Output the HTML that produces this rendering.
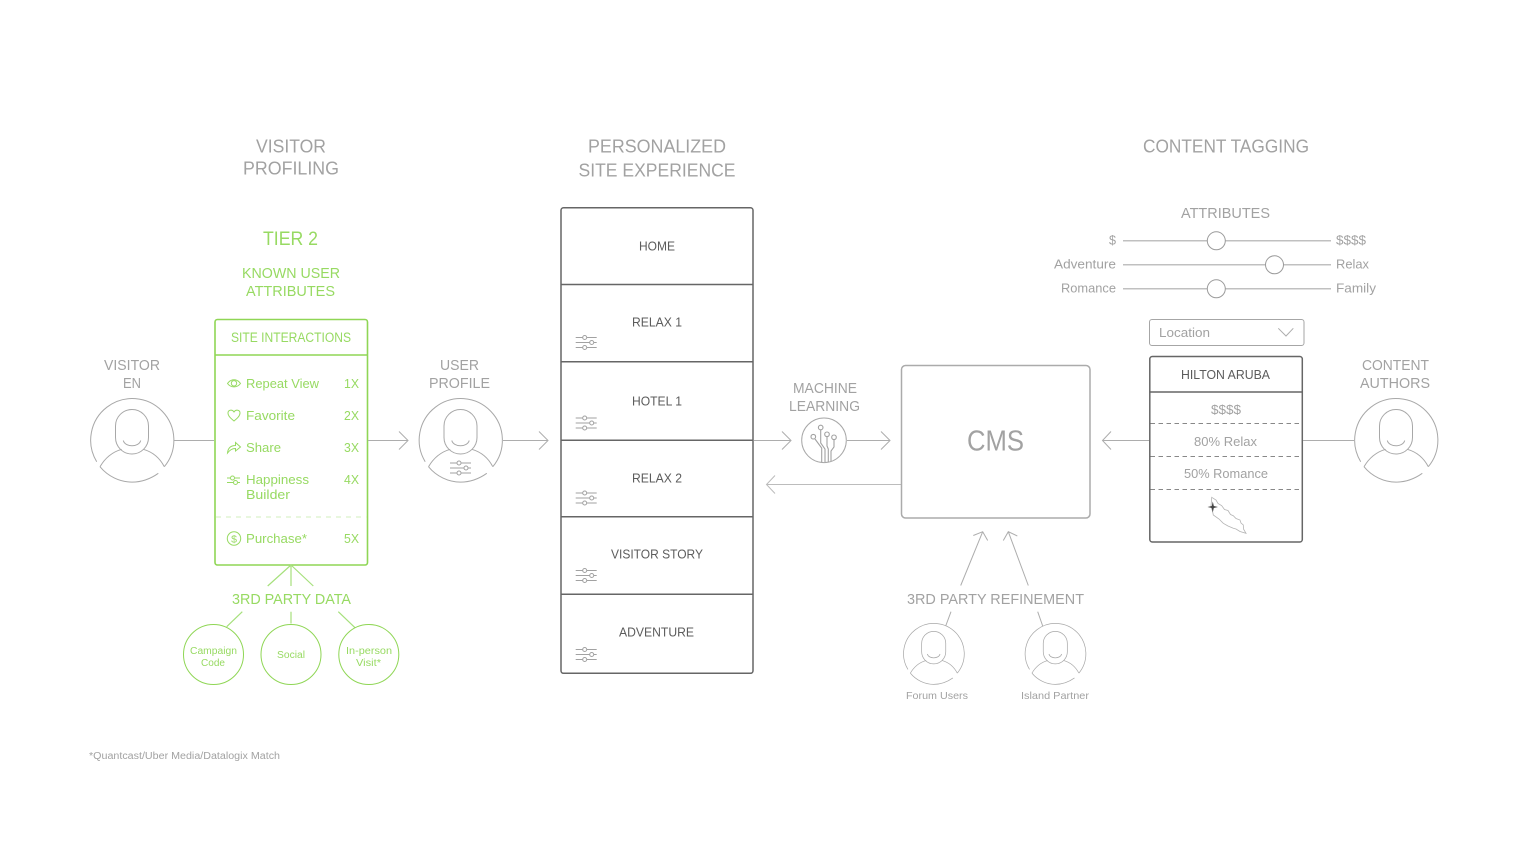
<!DOCTYPE html>
<html>
<head>
<meta charset="utf-8">
<style>
html,body{margin:0;padding:0;background:#fff;}
svg{display:block;}
text{font-family:"Liberation Sans",sans-serif;text-anchor:middle;}
.g{fill:#97da62;}
.t{fill:#a2a2a2;}
.d{fill:#5c5c5c;}
.l{text-anchor:start;}
.ln{fill:none;stroke:#adadad;stroke-width:1;}
.gl{fill:none;stroke:#a6e07c;stroke-width:1.2;}
.gs{fill:none;stroke:#97da62;stroke-width:1;}
</style>
</head>
<body>
<svg width="1528" height="860" viewBox="0 0 1528 860" xmlns="http://www.w3.org/2000/svg">
<defs>
<g id="person" fill="none" stroke="#a8a8a8" stroke-width="1">
<path d="M-35.3 21.2A41.6 41.6 0 1 1 32.3 26.2"/>
<path d="M-32 26.2C-26 16-18 11-10.3 8.8M32.3 26.2C27 16 19 11 11.3 8.8"/>
<path d="M-32 26.2C-24 36-12 41.6 0 41.6C10 41.6 19 38 26.3 32.8"/>
<rect x="-16.5" y="-31" width="33" height="44.5" rx="16.5" ry="16.5"/>
<path d="M-8.7 0C-7 7 7 7 8.7 0"/>
</g>
<g id="sliders" fill="#fff" stroke="#a2a2a2" stroke-width="1">
<path d="M-10.5 -5H10.5M-10.5 0H10.5M-10.5 5H10.5" fill="none"/>
<circle cx="-1.5" cy="-5" r="2"/>
<circle cx="5.5" cy="0" r="2"/>
<circle cx="-1.5" cy="5" r="2"/>
</g>
</defs>

<!-- Headings -->
<text class="t" x="291" y="152.300" font-size="18" textLength="70" lengthAdjust="spacingAndGlyphs">VISITOR</text>
<text class="t" x="291" y="174.300" font-size="18" textLength="96" lengthAdjust="spacingAndGlyphs">PROFILING</text>
<text class="t" x="657" y="152.300" font-size="18" textLength="138" lengthAdjust="spacingAndGlyphs">PERSONALIZED</text>
<text class="t" x="657" y="176.300" font-size="18" textLength="157" lengthAdjust="spacingAndGlyphs">SITE EXPERIENCE</text>
<text class="t" x="1226" y="152.300" font-size="18" textLength="166" lengthAdjust="spacingAndGlyphs">CONTENT TAGGING</text>

<text class="g" x="290.500" y="245" font-size="19" textLength="55" lengthAdjust="spacingAndGlyphs">TIER 2</text>
<text class="g" x="291" y="278" font-size="15" textLength="98" lengthAdjust="spacingAndGlyphs">KNOWN USER</text>
<text class="g" x="290.500" y="296" font-size="15" textLength="89" lengthAdjust="spacingAndGlyphs">ATTRIBUTES</text>

<!-- Visitor -->
<text class="t" x="132" y="370" font-size="15" textLength="56" lengthAdjust="spacingAndGlyphs">VISITOR</text>
<text class="t" x="132" y="388" font-size="15" textLength="18" lengthAdjust="spacingAndGlyphs">EN</text>
<use href="#person" x="132" y="440.500"/>
<path class="ln" d="M174 440.500H214"/>

<!-- Green box -->
<rect x="215" y="319.500" width="152.500" height="245.500" rx="2.500" fill="#fff" stroke="#8fd655" stroke-width="1.600"/>
<path d="M215 355H367.500" stroke="#8fd655" stroke-width="1.400" fill="none"/>
<path d="M216 517H367" stroke="#d2efbc" stroke-width="1" stroke-dasharray="5 5" fill="none"/>
<text class="g" x="291" y="342" font-size="13.500" textLength="120" lengthAdjust="spacingAndGlyphs">SITE INTERACTIONS</text>

<text class="g l" x="246" y="388" font-size="13" textLength="73" lengthAdjust="spacingAndGlyphs">Repeat View</text>
<text class="g l" x="246" y="420" font-size="13" textLength="49" lengthAdjust="spacingAndGlyphs">Favorite</text>
<text class="g l" x="246" y="452" font-size="13" textLength="35" lengthAdjust="spacingAndGlyphs">Share</text>
<text class="g l" x="246" y="484" font-size="13" textLength="63" lengthAdjust="spacingAndGlyphs">Happiness</text>
<text class="g l" x="246" y="499" font-size="13" textLength="44" lengthAdjust="spacingAndGlyphs">Builder</text>
<text class="g l" x="246" y="543" font-size="13" textLength="61" lengthAdjust="spacingAndGlyphs">Purchase*</text>
<text class="g" x="351.500" y="388" font-size="13" textLength="15" lengthAdjust="spacingAndGlyphs">1X</text>
<text class="g" x="351.500" y="420" font-size="13" textLength="15" lengthAdjust="spacingAndGlyphs">2X</text>
<text class="g" x="351.500" y="452" font-size="13" textLength="15" lengthAdjust="spacingAndGlyphs">3X</text>
<text class="g" x="351.500" y="484" font-size="13" textLength="15" lengthAdjust="spacingAndGlyphs">4X</text>
<text class="g" x="351.500" y="543" font-size="13" textLength="15" lengthAdjust="spacingAndGlyphs">5X</text>

<!-- green icons -->
<path class="gs" d="M227.500 383.500C231 378.500 237 378.500 240.500 383.500C237 388 231 388 227.500 383.500Z"/>
<circle class="gs" cx="234" cy="383.300" r="2.700"/>
<path class="gs" d="M234 421C231 418.500 228 416 228 413C228 410 232 409 234 412C236 409 240 410 240 413C240 416 237 418.500 234 421Z"/>
<path class="gs" d="M227.500 453C228 448 231 445.500 235.500 445.500V442.500L240.500 447L235.500 451V448.500C232 448.500 230 450 227.500 453Z"/>
<path class="gs" d="M227 478H230M235 478H240M227 482.500H233M238 482.500H240"/>
<circle class="gs" cx="232.500" cy="478" r="2"/>
<circle class="gs" cx="235.500" cy="482.500" r="2"/>
<circle class="gs" cx="234" cy="538.500" r="6.700"/>
<text class="g" x="234" y="542.300" font-size="10.500">$</text>

<!-- Green connectors -->
<path class="gl" d="M291 565L267.700 586M291 565V586M291 565L313.300 586M242.300 611.700L226.700 626.700M291 611.700V623.500M338.300 611.700L355 627.700"/>
<text class="g" x="291.500" y="604" font-size="15" textLength="119" lengthAdjust="spacingAndGlyphs">3RD PARTY DATA</text>
<circle cx="213.500" cy="654.500" r="30" fill="none" stroke="#8fd655" stroke-width="1"/>
<circle cx="291" cy="654.500" r="30" fill="none" stroke="#8fd655" stroke-width="1"/>
<circle cx="368.800" cy="654.500" r="30" fill="none" stroke="#8fd655" stroke-width="1"/>
<text class="g" x="213.500" y="654" font-size="10" textLength="47" lengthAdjust="spacingAndGlyphs">Campaign</text>
<text class="g" x="213" y="666" font-size="10" textLength="24" lengthAdjust="spacingAndGlyphs">Code</text>
<text class="g" x="291" y="658" font-size="10" textLength="28" lengthAdjust="spacingAndGlyphs">Social</text>
<text class="g" x="369" y="654" font-size="10" textLength="46" lengthAdjust="spacingAndGlyphs">In-person</text>
<text class="g" x="368.500" y="666" font-size="10" textLength="25" lengthAdjust="spacingAndGlyphs">Visit*</text>

<!-- arrow 1 -->
<path class="ln" d="M368 440.500H408M399 431.500L408 440.500L399 449.500"/>

<!-- User profile -->
<text class="t" x="459.500" y="370" font-size="15" textLength="39" lengthAdjust="spacingAndGlyphs">USER</text>
<text class="t" x="459.500" y="388" font-size="15" textLength="61" lengthAdjust="spacingAndGlyphs">PROFILE</text>
<use href="#person" x="460.500" y="440.500"/>
<use href="#sliders" x="460.500" y="468"/>
<path class="ln" d="M503 440.500H548M539 431.500L548 440.500L539 449.500"/>

<!-- Stack -->
<rect x="561" y="207.800" width="192" height="465.500" rx="2.500" fill="#fff" stroke="#666" stroke-width="1.500"/>
<path d="M561 284.500H753M561 361.800H753M561 440.300H753M561 516.800H753M561 594.300H753" stroke="#666" stroke-width="1.500" fill="none"/>
<text class="d" x="657" y="250.500" font-size="13" textLength="36" lengthAdjust="spacingAndGlyphs">HOME</text>
<text class="d" x="657" y="326.500" font-size="13" textLength="50" lengthAdjust="spacingAndGlyphs">RELAX 1</text>
<text class="d" x="657" y="405.500" font-size="13" textLength="50" lengthAdjust="spacingAndGlyphs">HOTEL 1</text>
<text class="d" x="657" y="482.500" font-size="13" textLength="50" lengthAdjust="spacingAndGlyphs">RELAX 2</text>
<text class="d" x="657" y="558.500" font-size="13" textLength="92" lengthAdjust="spacingAndGlyphs">VISITOR STORY</text>
<text class="d" x="656.500" y="636.500" font-size="13" textLength="75" lengthAdjust="spacingAndGlyphs">ADVENTURE</text>
<use href="#sliders" x="586.200" y="342.500"/>
<use href="#sliders" x="586.200" y="423"/>
<use href="#sliders" x="586.200" y="498"/>
<use href="#sliders" x="586.200" y="575.500"/>
<use href="#sliders" x="586.200" y="654.500"/>

<!-- Machine learning -->
<text class="t" x="825" y="393" font-size="15" textLength="64" lengthAdjust="spacingAndGlyphs">MACHINE</text>
<text class="t" x="824.500" y="411" font-size="15" textLength="71" lengthAdjust="spacingAndGlyphs">LEARNING</text>
<path class="ln" d="M754 440.500H791M782 431.500L791 440.500L782 449.500"/>
<circle cx="824" cy="440.300" r="22.300" fill="#fff" stroke="#a8a8a8" stroke-width="1"/>
<g fill="none" stroke="#a2a2a2" stroke-width="1.100">
<path d="M821.700 462V448L815 439M820.700 430V443L825 449V462M827 437V446L828.300 449V462M834 440V447L831 451V461"/>
<circle cx="820.700" cy="427.500" r="2.300"/>
<circle cx="813.300" cy="436.700" r="2.300"/>
<circle cx="827" cy="434.300" r="2.300"/>
<circle cx="834" cy="437.300" r="2.300"/>
</g>
<path class="ln" d="M847 440.500H890M881 431.500L890 440.500L881 449.500"/>
<path d="M901 484.500H766.500M775 475.500L766.500 484.500L775 493.500" fill="none" stroke="#bcbcbc" stroke-width="1"/>

<!-- CMS -->
<rect x="901.500" y="365.500" width="188.500" height="152.500" rx="4" fill="#fff" stroke="#ababab" stroke-width="1.500"/>
<text class="t" x="995.500" y="450.300" font-size="29" textLength="57" lengthAdjust="spacingAndGlyphs">CMS</text>

<!-- refinement -->
<path class="ln" d="M960.700 585.500L982.700 531.700M973.300 535.500L982.700 531.700L987.700 540.500"/>
<path class="ln" d="M1028.300 585.500L1008.300 531.700M1003.300 540.500L1008.300 531.700L1017.300 536"/>
<path class="ln" d="M951 611.700L945.700 626M1037.700 611.700L1042.700 626"/>
<text class="t" x="995.500" y="604" font-size="15" textLength="177" lengthAdjust="spacingAndGlyphs">3RD PARTY REFINEMENT</text>
<use href="#person" transform="translate(933.700 654) scale(.73)"/>
<use href="#person" transform="translate(1055.300 654) scale(.73)"/>
<text class="t" x="937" y="699" font-size="10.500" textLength="62" lengthAdjust="spacingAndGlyphs">Forum Users</text>
<text class="t" x="1055" y="699" font-size="10.500" textLength="68" lengthAdjust="spacingAndGlyphs">Island Partner</text>

<!-- Attributes -->
<text class="t" x="1225.500" y="218" font-size="15" textLength="89" lengthAdjust="spacingAndGlyphs">ATTRIBUTES</text>
<path d="M1123 240.800H1331M1123 264.800H1331M1123 288.800H1331" stroke="#c0c0c0" stroke-width="1.500" fill="none"/>
<circle cx="1216.300" cy="240.800" r="9" fill="#fff" stroke="#9a9a9a" stroke-width="1"/>
<circle cx="1274.500" cy="264.800" r="9" fill="#fff" stroke="#9a9a9a" stroke-width="1"/>
<circle cx="1216.300" cy="288.800" r="9" fill="#fff" stroke="#9a9a9a" stroke-width="1"/>
<text class="t" x="1112.500" y="244.500" font-size="13" textLength="7" lengthAdjust="spacingAndGlyphs">$</text>
<text class="t" x="1085" y="268.500" font-size="13" textLength="62" lengthAdjust="spacingAndGlyphs">Adventure</text>
<text class="t" x="1088.500" y="292.500" font-size="13" textLength="55" lengthAdjust="spacingAndGlyphs">Romance</text>
<text class="t" x="1351" y="244.500" font-size="13" textLength="30" lengthAdjust="spacingAndGlyphs">$$$$</text>
<text class="t" x="1352.500" y="268.500" font-size="13" textLength="33" lengthAdjust="spacingAndGlyphs">Relax</text>
<text class="t" x="1356" y="292.500" font-size="13" textLength="40" lengthAdjust="spacingAndGlyphs">Family</text>

<!-- Location -->
<rect x="1149.500" y="319.500" width="154.500" height="26" rx="2.500" fill="#fff" stroke="#a6a6a6" stroke-width="1"/>
<text class="t l" x="1159" y="337" font-size="13" textLength="51" lengthAdjust="spacingAndGlyphs">Location</text>
<path class="ln" d="M1278.300 328.300L1286 336L1293.300 328.300"/>

<!-- Hilton -->
<rect x="1149.800" y="356.500" width="152.500" height="185.500" rx="2.500" fill="#fff" stroke="#666" stroke-width="1.500"/>
<path d="M1149.800 392H1302.300" stroke="#666" stroke-width="1.500" fill="none"/>
<path d="M1150.500 423.500H1302M1150.500 456.500H1302M1150.500 489.500H1302" stroke="#888" stroke-width="1" stroke-dasharray="4.500 3.500" fill="none"/>
<text class="d" x="1225.500" y="379" font-size="13" textLength="89" lengthAdjust="spacingAndGlyphs">HILTON ARUBA</text>
<text class="t" x="1226" y="414" font-size="13" textLength="30" lengthAdjust="spacingAndGlyphs">$$$$</text>
<text class="t" x="1225.500" y="446" font-size="13" textLength="63" lengthAdjust="spacingAndGlyphs">80% Relax</text>
<text class="t" x="1226" y="478" font-size="13" textLength="84" lengthAdjust="spacingAndGlyphs">50% Romance</text>
<path d="M1211.700 497.300L1216 500L1218 503.500L1221.700 505.700L1224.500 509.500L1228 510.500L1230.500 514.500L1233.300 515.700L1236 518.500L1240 520L1241 523L1243.300 525L1243.500 529L1246 533.300L1240 531.500L1236 529L1233.300 528.300L1228 526L1223.300 523.300L1219 519L1213.300 515L1212.500 511L1211 506.700Z" fill="#fff" stroke="#b4b4b4" stroke-width=".8"/>
<path d="M1212.800 501.500L1213.800 506L1218 507L1213.800 508L1212.800 512.500L1211.800 508L1207.500 507L1211.800 506Z" fill="#444"/>

<path class="ln" d="M1149 440.500H1102.500M1111 431.500L1102.500 440.500L1111 449.500"/>
<path class="ln" d="M1303 440.500H1354"/>

<!-- Content authors -->
<text class="t" x="1395.500" y="370" font-size="15" textLength="67" lengthAdjust="spacingAndGlyphs">CONTENT</text>
<text class="t" x="1395" y="388" font-size="15" textLength="70" lengthAdjust="spacingAndGlyphs">AUTHORS</text>
<use href="#person" x="1396" y="440.500"/>

<text class="t" x="184.500" y="759" font-size="10" textLength="191" lengthAdjust="spacingAndGlyphs">*Quantcast/Uber Media/Datalogix Match</text>
</svg>
</body>
</html>
